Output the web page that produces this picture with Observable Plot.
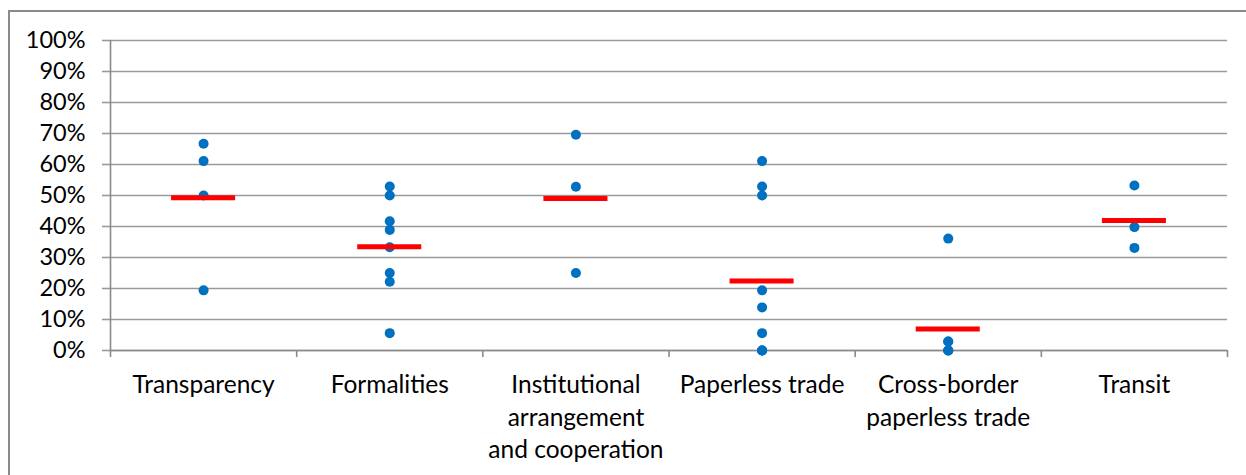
<!DOCTYPE html>
<html>
<head>
<meta charset="utf-8">
<script src="https://cdn.jsdelivr.net/npm/d3@7"></script>
<script src="https://cdn.jsdelivr.net/npm/@observablehq/plot@0.6"></script>
<style>
  html, body { margin: 0; padding: 0; background: #fff; }
  #chart { position: relative; width: 1246px; height: 475px; overflow: hidden; }
</style>
</head>
<body>
<div id="chart"></div>
<script>
// Categories (axis labels, with line breaks as in the reference)
const categories = ["Transparency", "Formalities", "Institutional arrangement and cooperation", "Paperless trade", "Cross-border paperless trade", "Transit"];
const categoryLabels = ["Transparency", "Formalities", "Institutional\narrangement\nand cooperation", "Paperless trade", "Cross-border\npaperless trade", "Transit"];

// Individual scores per category (fractions)
const transparencyValues = [0.667, 0.611, 0.500, 0.194];
const formalitiesValues = [0.529, 0.500, 0.417, 0.389, 0.333, 0.250, 0.222, 0.056];
const institutionalValues = [0.696, 0.528, 0.250];
const paperlessValues = [0.611, 0.529, 0.500, 0.194, 0.139, 0.056, 0.000, 0.000, 0.000];
const crossBorderValues = [0.361, 0.029, 0.029, 0.000, 0.000, 0.000];
const transitValues = [0.532, 0.398, 0.331];

// Average per category (red markers)
const averages = [0.493, 0.335, 0.490, 0.224, 0.069, 0.419];

// Y axis ticks
const yTicks = [0, 0.1, 0.2, 0.3, 0.4, 0.5, 0.6, 0.7, 0.8, 0.9, 1.0];

const seriesValues = [transparencyValues, formalitiesValues, institutionalValues, paperlessValues, crossBorderValues, transitValues];
const points = seriesValues.flatMap((vals, i) => vals.map(v => ({category: categories[i], value: v})));
const means = averages.map((v, i) => ({category: categories[i], value: v}));
const pos = c => categories.indexOf(c) + 0.5;

const W = 1246, H = 475;
const font = "Lato, 'Open Sans', sans-serif";

const plot = Plot.plot({
  width: W,
  height: H,
  marginLeft: 110,
  marginRight: 19,
  marginTop: 40,
  marginBottom: 125,
  style: {fontFamily: font, background: "transparent", color: "#000", overflow: "visible"},
  x: {type: "linear", domain: [0, categories.length], axis: null},
  y: {domain: [0, 1], axis: null},
  marks: [
    Plot.ruleY(yTicks, {stroke: "#9a9a9a", strokeWidth: 1.6, x1: 0, x2: categories.length}),
    Plot.axisY({ticks: yTicks, label: null, tickFormat: d3.format(".0%"), tickSize: 8, tickPadding: 17, fontSize: 23.5, stroke: "#9a9a9a", strokeWidth: 1.6, strokeOpacity: 1, fill: "#000"}),
    Plot.axisX({ticks: d3.range(0, categories.length + 1), label: null, tickSize: 7, tickFormat: () => "", stroke: "#8a8a8a", strokeWidth: 1.6, strokeOpacity: 1}),
    Plot.axisX({ticks: categories.map(pos), label: null, tickSize: 0, tickPadding: 20, tickFormat: d => categoryLabels[Math.round(d - 0.5)], fontSize: 24.5, lineHeight: 1.32, fill: "#000"}),
    Plot.ruleX([0], {stroke: "#8a8a8a", strokeWidth: 1.6}),
    Plot.ruleY([0], {stroke: "#8a8a8a", strokeWidth: 1.6}),
    Plot.dot(points, {x: d => pos(d.category), y: "value", r: 5, fill: "#0070C0", stroke: "none"}),
    Plot.ruleY(means, {y: "value", x1: d => pos(d.category) - 0.172, x2: d => pos(d.category) + 0.172, stroke: "#FF0000", strokeWidth: 5})
  ]
});

const container = document.getElementById("chart");
container.appendChild(plot);
// outer chart-area border, as in the reference
d3.select(plot).insert("rect", ":first-child")
  .attr("x", 9).attr("y", 11).attr("width", 1300).attr("height", 520)
  .attr("fill", "none").attr("stroke", "#8a8a8a").attr("stroke-width", 2);
</script>
</body>
</html>
